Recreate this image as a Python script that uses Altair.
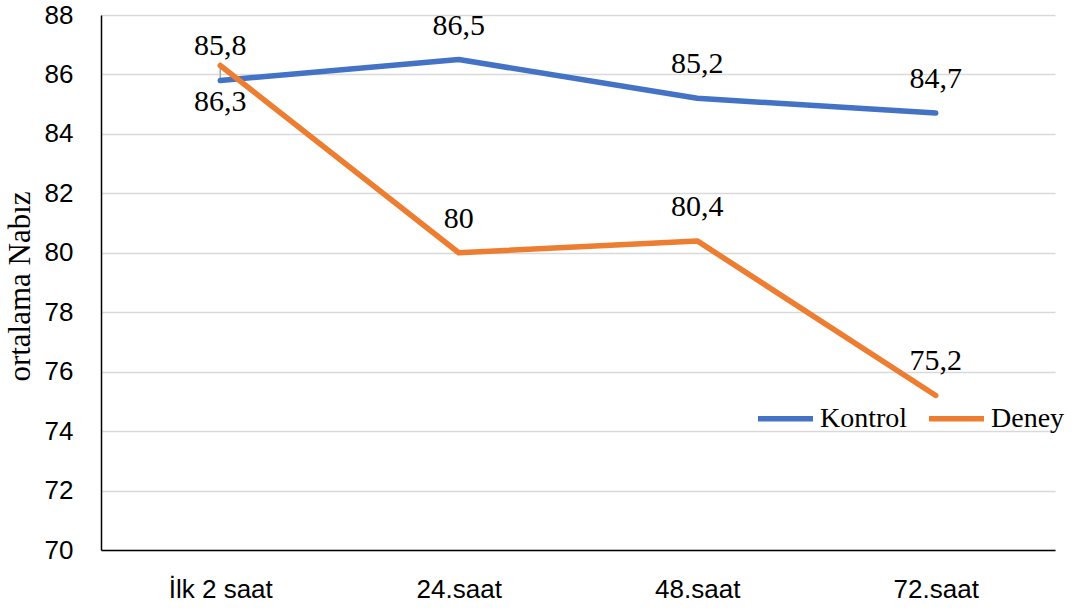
import altair as alt
import pandas as pd

# Mean pulse per time point for the two groups
categories = ["İlk 2 saat", "24.saat", "48.saat", "72.saat"]
kontrol = [85.8, 86.5, 85.2, 84.7]
deney = [86.3, 80.0, 80.4, 75.2]
groups = ["Kontrol", "Deney"]
colors = ["#4472C4", "#ED7D31"]

rows = []
for g, vals in zip(groups, [kontrol, deney]):
    for i, (c, v) in enumerate(zip(categories, vals)):
        rows.append({"sira": i, "zaman": c, "grup": g, "nabiz": v,
                     "etiket": f"{v:g}".replace(".", ",")})
df = pd.DataFrame(rows)

# category positions sit in the middle of equal slots
label_expr = "[" + ",".join(f"'{c}'" for c in categories) + "][datum.value]"
x_scale = alt.Scale(domain=[-0.5, len(categories) - 0.5], nice=False, zero=False)

x_enc = alt.X("sira:Q", scale=x_scale,
              axis=alt.Axis(title=None, values=list(range(len(categories))),
                            labelExpr=label_expr, labelAngle=0,
                            labelFont="Liberation Sans", labelFontSize=26,
                            labelColor="#000000", labelPadding=26,
                            ticks=False, domainColor="#000000", domainWidth=1.5,
                            grid=False))
y_enc = alt.Y("nabiz:Q",
              scale=alt.Scale(domain=[70, 88], nice=False, zero=False),
              axis=alt.Axis(title="ortalama Nabız", values=list(range(70, 89, 2)),
                            titleFont="Liberation Serif", titleFontSize=31,
                            titleFontWeight="normal", titleColor="#000000",
                            titleAngle=-90, titleAlign="center",
                            titleBaseline="alphabetic", titleX=-72, titleY=271,
                            labelFont="Liberation Sans", labelFontSize=26,
                            labelColor="#000000", labelPadding=28, ticks=False,
                            domainColor="#000000", domainWidth=1.5,
                            gridColor="#d9d9d9", gridWidth=1.5))

base = alt.Chart(df)

# small leader line connecting the first data label to its point
leader = base.transform_filter(
    alt.datum.sira == 0
).transform_pivot("grup", value="nabiz", groupby=["sira"]).mark_rule(
    color="#a6a6a6", strokeWidth=1.5
).encode(x=alt.X("sira:Q", scale=x_scale), y="Deney:Q", y2="Kontrol:Q")

lines = base.mark_line(strokeWidth=5.5, strokeCap="round", strokeJoin="round").encode(
    x=x_enc,
    y=y_enc,
    color=alt.Color("grup:N",
                    scale=alt.Scale(domain=groups, range=colors),
                    legend=alt.Legend(title=None, orient="none", direction="horizontal",
                                      legendX=654, legendY=373, padding=0,
                                      symbolType="stroke", symbolSize=3025,
                                      symbolStrokeWidth=5.5, labelOffset=4,
                                      columnPadding=10,
                                      labelFont="Liberation Serif", labelFontSize=28,
                                      labelColor="#000000", labelLimit=300)),
)

label_style = dict(font="Liberation Serif", fontSize=30, color="#000000",
                   baseline="middle", align="center")

labels_above = base.transform_filter(
    (alt.datum.grup == "Kontrol") | (alt.datum.sira != 0)
).mark_text(dy=-34, **label_style).encode(
    x=alt.X("sira:Q", scale=x_scale), y="nabiz:Q", text="etiket:N")

labels_below = base.transform_filter(
    (alt.datum.grup == "Deney") & (alt.datum.sira == 0)
).mark_text(dy=36, **label_style).encode(
    x=alt.X("sira:Q", scale=x_scale), y="nabiz:Q", text="etiket:N")

chart = alt.layer(leader, lines, labels_above, labels_below).properties(
    width=954, height=535,
    autosize=alt.AutoSizeParams(type="none"),
    padding={"left": 101, "top": 15, "right": 25, "bottom": 64},
    background="#ffffff",
).configure_view(stroke=None)

chart.save("out.html", embed_options={"renderer": "svg", "actions": False})
